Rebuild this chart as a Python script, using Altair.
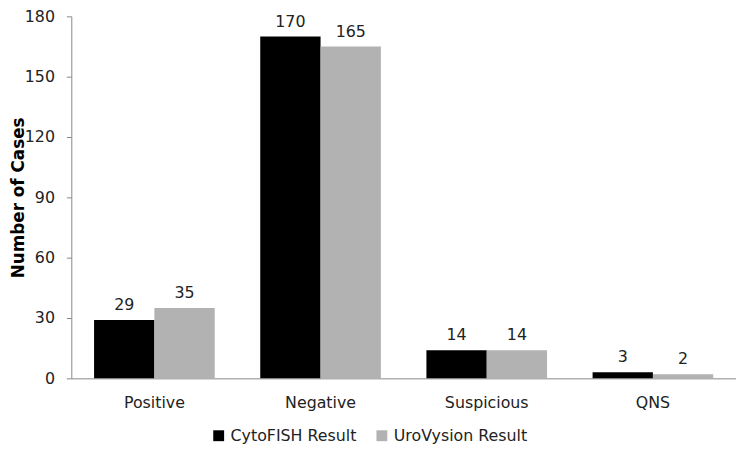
import altair as alt
import pandas as pd

categories = ["Positive", "Negative", "Suspicious", "QNS"]
series = ["CytoFISH Result", "UroVysion Result"]
cytofish = [29, 170, 14, 3]
urovysion = [35, 165, 14, 2]
colors = ["#000000", "#b2b2b2"]
y_ticks = [0, 30, 60, 90, 120, 150, 180]

rows = []
for i, c in enumerate(categories):
    rows.append({"category": c, "series": series[0], "value": cytofish[i]})
    rows.append({"category": c, "series": series[1], "value": urovysion[i]})
df = pd.DataFrame(rows)

FONT = "DejaVu Sans"
FS = 16

x = alt.X("category:N", sort=categories, title=None,
          scale=alt.Scale(paddingInner=0.274, paddingOuter=0.137),
          axis=alt.Axis(labelAngle=0, ticks=False, domainColor="#888888",
                        labelFontSize=FS, labelFont=FONT, labelColor="#222222",
                        labelPadding=16))
xoff = alt.XOffset("series:N", sort=series)
y = alt.Y("value:Q", title="Number of Cases",
          scale=alt.Scale(domain=[0, 180], nice=False),
          axis=alt.Axis(values=y_ticks, grid=False,
                        domainColor="#888888", tickColor="#888888", tickSize=5,
                        labelFontSize=FS, labelFont=FONT, labelColor="#222222",
                        labelPadding=12,
                        titleFont=FONT, titleFontSize=17,
                        titleFontWeight="bold", titleColor="#000000", titlePadding=-3))

bars = alt.Chart(df).mark_bar().encode(
    x=x, xOffset=xoff, y=y,
    color=alt.Color("series:N", sort=series,
                    scale=alt.Scale(domain=series, range=colors),
                    legend=alt.Legend(title=None, orient="none", direction="horizontal",
                                      legendX=141, legendY=416, symbolType="square",
                                      symbolSize=121, symbolStrokeWidth=0,
                                      labelFont=FONT, labelFontSize=FS,
                                      labelColor="#222222", columnPadding=17,
                                      labelOffset=4))
)

labels = alt.Chart(df).mark_text(dy=-10, baseline="alphabetic", fontSize=FS, font=FONT,
                                 color="#222222").encode(
    x=x, xOffset=xoff, y=y, text="value:Q"
)

chart = (bars + labels).properties(
    width=672, height=366,
    autosize=alt.AutoSizeParams(type="none"),
    padding={"left": 64, "top": 6, "right": 0, "bottom": 70},
).configure_view(stroke=None)

chart.save("out.html", embed_options={"renderer": "svg", "actions": False})
